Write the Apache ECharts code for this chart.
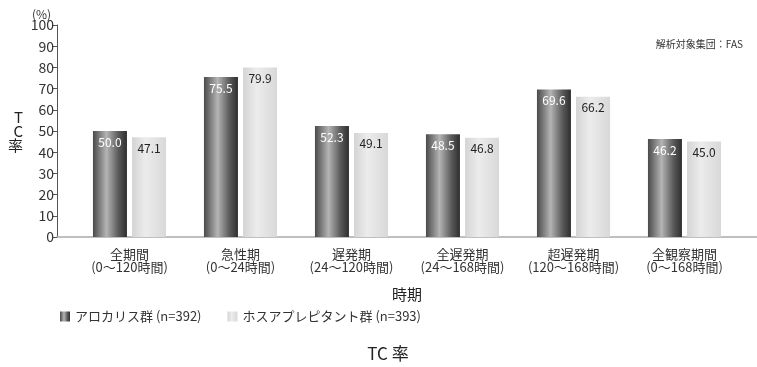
<!DOCTYPE html>
<html>
<head>
<meta charset="utf-8">
<script src="https://cdn.jsdelivr.net/npm/echarts@6/dist/echarts.min.js"></script>
<style>
  html, body { margin: 0; padding: 0; background: #fff; }
  #chart { width: 757px; height: 367px; }
</style>
</head>
<body>
<div id="chart"></div>
<script>
// 時期
const categories = [
  "全期間\n(0〜120時間)",
  "急性期\n(0〜24時間)",
  "遅発期\n(24〜120時間)",
  "全遅発期\n(24〜168時間)",
  "超遅発期\n(120〜168時間)",
  "全観察期間\n(0〜168時間)"
];
const seriesNames = ["アロカリス群 (n=392)", "ホスアプレピタント群 (n=393)"];
const aloValues = [50.0, 75.5, 52.3, 48.5, 69.6, 46.2];
const fosValues = [47.1, 79.9, 49.1, 46.8, 66.2, 45.0];

const FONT = "'Noto Sans CJK JP', 'Noto Sans', sans-serif";

const darkBar = new echarts.graphic.LinearGradient(0, 0, 1, 0, [
  { offset: 0, color: "#4a4a4a" },
  { offset: 0.4, color: "#b4b4b4" },
  { offset: 0.75, color: "#5a5a5a" },
  { offset: 1, color: "#2e2e2e" }
]);
const lightBar = new echarts.graphic.LinearGradient(0, 0, 1, 0, [
  { offset: 0, color: "#d4d4d4" },
  { offset: 0.4, color: "#ececec" },
  { offset: 1, color: "#d8d8d8" }
]);

let myChart = echarts.init(document.getElementById("chart"));
let options = {
  animation: false,
  textStyle: { fontFamily: FONT },
  title: [
    {
      text: "(%)", left: 27, top: 3,
      textStyle: { fontSize: 12, fontWeight: "normal", color: "#333", fontFamily: FONT }
    },
    {
      text: "解析対象集団：FAS", right: 9, top: 34,
      textStyle: { fontSize: 10, fontWeight: "normal", color: "#333", fontFamily: FONT }
    },
    {
      text: "TC 率", left: 383, top: 340, textAlign: "center",
      textStyle: { fontSize: 17, fontWeight: "normal", color: "#222", fontFamily: FONT }
    }
  ],
  legend: {
    data: seriesNames,
    left: 55,
    top: 305,
    itemWidth: 10,
    itemHeight: 10,
    itemGap: 26,
    icon: "rect",
    textStyle: { fontSize: 13, color: "#333", fontFamily: FONT }
  },
  grid: [
    { left: 74, right: 17, top: 25, bottom: 130 },
    { left: 57, right: 0, top: 25, bottom: 130 }
  ],
  xAxis: [
    {
      type: "category",
      data: categories,
      gridIndex: 0,
      axisLine: { show: false },
      axisTick: { show: false },
      axisLabel: {
        interval: 0,
        margin: 11,
        fontSize: 13,
        lineHeight: 13,
        color: "#333",
        fontFamily: FONT
      },
      name: "時期",
      nameLocation: "middle",
      nameGap: 50,
      nameTextStyle: { fontSize: 15, color: "#222", fontFamily: FONT }
    },
    {
      type: "value",
      gridIndex: 1,
      axisLine: { show: true, lineStyle: { color: "#aaa", width: 1.5 } },
      axisTick: { show: false },
      axisLabel: { show: false },
      splitLine: { show: false }
    }
  ],
  yAxis: [
    {
      type: "value",
      gridIndex: 0,
      min: 0,
      max: 100,
      interval: 10,
      offset: 17,
      axisLine: { show: true, lineStyle: { color: "#555", width: 1 } },
      axisTick: { show: true, length: 5, lineStyle: { color: "#555" } },
      axisLabel: { fontSize: 14, color: "#333", margin: 3, fontFamily: FONT },
      splitLine: { show: false },
      name: "T\nC\n率",
      nameLocation: "middle",
      nameRotate: 0,
      nameGap: 34,
      nameTextStyle: { fontSize: 15, color: "#222", lineHeight: 14, fontFamily: FONT }
    },
    {
      type: "value",
      gridIndex: 1,
      show: false
    }
  ],
  series: [
    {
      name: seriesNames[0],
      type: "bar",
      data: aloValues,
      barWidth: 34,
      barGap: "15%",
      itemStyle: { color: darkBar },
      label: {
        show: true,
        position: "insideTop",
        distance: 5,
        formatter: (p) => p.value.toFixed(1),
        color: "#fff",
        fontSize: 12,
        fontFamily: FONT
      }
    },
    {
      name: seriesNames[1],
      type: "bar",
      data: fosValues,
      barWidth: 34,
      barGap: "15%",
      itemStyle: { color: lightBar },
      label: {
        show: true,
        position: "insideTop",
        distance: 5,
        formatter: (p) => p.value.toFixed(1),
        color: "#222",
        fontSize: 12,
        fontFamily: FONT
      }
    }
  ]
};
myChart.setOption(options);
</script>
</body>
</html>
